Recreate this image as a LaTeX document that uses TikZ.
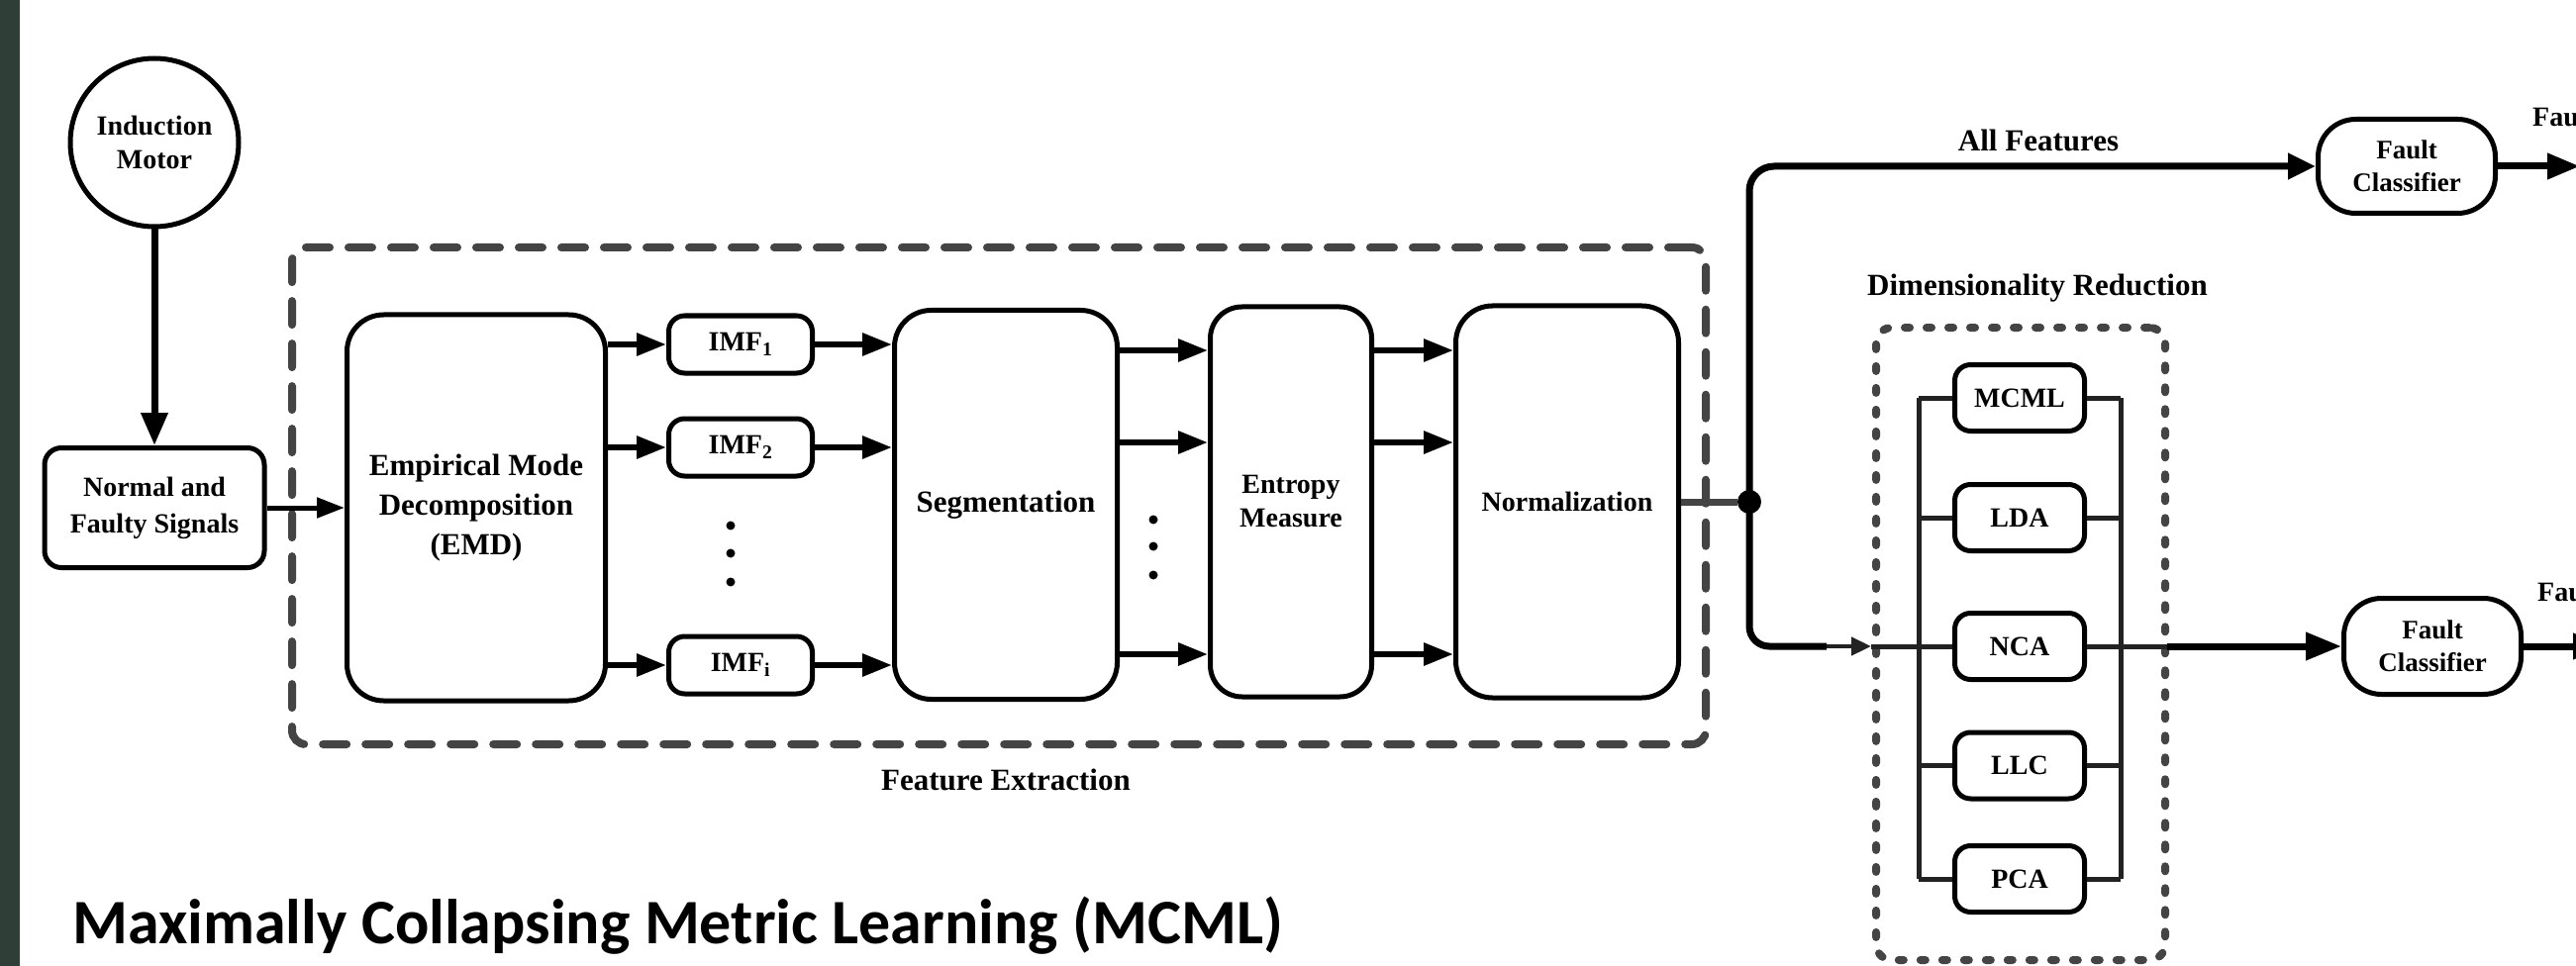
\documentclass[tikz,border=0pt]{standalone}
\usepackage{fontspec}
\setmainfont{Liberation Serif}
\newfontfamily\titlefont{Carlito}
\usetikzlibrary{arrows.meta,calc}
\definecolor{strip}{RGB}{47,62,55}
\definecolor{fegray}{RGB}{68,68,68}
\definecolor{busc}{RGB}{34,34,34}
\newcommand\fsz[2]{\fontsize{#1pt}{#2pt}\selectfont\bfseries}
\begin{document}
\begin{tikzpicture}[x=1pt,y=-1pt,
  rbox/.style={draw, line width=5pt, align=center, inner sep=0pt, font=\fsz{28}{34}},
  arr/.style={line width=6pt, -{Triangle[length=30pt,width=22pt]}},
  lbl/.style={font=\fsz{31}{36}, inner sep=0pt},
  dimbox/.style={rbox, rounded corners=16pt, minimum width=131pt, minimum height=67pt},
  busline/.style={line width=5pt, draw=busc},
  febox/.style={draw=fegray, line width=8pt, dash pattern=on 24pt off 19pt, line cap=round, rounded corners=14pt, inner sep=0pt},
  drbox/.style={draw=fegray, line width=8pt, dash pattern=on 5pt off 17pt, line cap=round, rounded corners=16pt, inner sep=0pt},
]
\useasboundingbox (0,0) rectangle (2602,976);
\clip (0,0) rectangle (2602,976);
\fill[white] (0,0) rectangle (2602,976);
\fill[strip] (0,0) rectangle (20,976);

% left part
\node[rbox, circle, minimum size=170pt] (motor) at (156,144) {Induction\\Motor};
\node[rbox, rounded corners=17pt, minimum width=222pt, minimum height=121pt, font=\fsz{28}{37}] (sig) at (156,513) {Normal and\\Faulty Signals};

% feature extraction
\node[febox, minimum width=1428pt, minimum height=502pt] (fe) at (1009,501) {};
\node[lbl] (felbl) at (1016,788) {Feature Extraction};
\node[rbox, rounded corners=37pt, minimum width=261pt, minimum height=390pt, font=\fsz{31}{40}] (emd) at (481,513) {Empirical Mode\\Decomposition\\(EMD)};
\node[rbox, rounded corners=16pt, minimum width=145pt, minimum height=58pt] (imf1) at (748,348) {IMF\textsubscript{1}};
\node[rbox, rounded corners=16pt, minimum width=145pt, minimum height=58pt] (imf2) at (748,452) {IMF\textsubscript{2}};
\node[rbox, rounded corners=16pt, minimum width=145pt, minimum height=58pt] (imfi) at (748,672) {IMF\textsubscript{i}};
\node[rbox, rounded corners=37pt, minimum width=225pt, minimum height=393pt, font=\fsz{31}{38}] (seg) at (1016,510) {Segmentation};
\node[rbox, rounded corners=32pt, minimum width=163pt, minimum height=394pt] (ent) at (1304,507) {Entropy\\Measure};
\node[rbox, rounded corners=37pt, minimum width=225pt, minimum height=396pt] (norm) at (1583,507) {Normalization};

\foreach \yy in {531,559,588} {\fill (738,\yy) circle (4.5pt);}
\foreach \yy in {525,552,581} {\fill (1165,\yy) circle (4.5pt);}

\coordinate (r1) at (0,354);
\coordinate (r2) at (0,447);
\coordinate (r3) at (0,661);

% right part
\node[circle, fill, inner sep=0pt, minimum size=24pt] (jn) at (1767,507) {};
\node[rbox, rounded corners=38pt, minimum width=179pt, minimum height=95pt, font=\fsz{27}{33}] (fc1) at (2431,168) {Fault\\Classifier};
\node[rbox, rounded corners=38pt, minimum width=179pt, minimum height=97pt, font=\fsz{27}{33}] (fc2) at (2457,653) {Fault\\Classifier};
\node[lbl] (allf) at (2059,142) {All Features};
\node[lbl] (drlbl) at (2058,291) {Dimensionality Reduction};
\node[drbox, minimum width=292pt, minimum height=639pt] (dr) at (2041,650.5) {};
\node[dimbox] (mcml) at (2040,402) {MCML};
\node[dimbox] (lda) at (2040,523) {LDA};
\node[dimbox] (nca) at (2040,653) {NCA};
\node[dimbox] (llc) at (2040,773.5) {LLC};
\node[dimbox] (pca) at (2040,888) {PCA};
\node[anchor=west, inner sep=0pt, font=\fsz{28}{34}] (f1) at (2558,118) {Fault};
\node[anchor=west, inner sep=0pt, font=\fsz{28}{34}] (f2) at (2563,598) {Fault};

\coordinate (c1) at (1845,653);
\coordinate (c2) at (1890,653);
\coordinate (lb) at (1938,0);
\coordinate (rb) at (2142,0);
\coordinate (drr) at (2189,653);
\coordinate (o1) at (2606,168);
\coordinate (o2) at (2632,653);

% connectors
\draw[line width=7pt, -{Triangle[length=33pt,width=26pt]}] (motor) -- (sig);
\draw[line width=5pt, -{Triangle[length=28pt,width=20pt]}] (sig) -- (emd);
\foreach \n in {imf1,imf2,imfi} {
  \draw[arr] (emd.east |- \n) -- (\n);
  \draw[arr] (\n) -- (\n -| seg.west);
}
\foreach \r in {r1,r2,r3} {
  \draw[arr] (seg.east |- \r) -- (ent.west |- \r);
  \draw[arr] (ent.east |- \r) -- (norm.west |- \r);
}
\draw[line width=7pt, fegray] (norm) -- (jn);
\draw[line width=7pt, rounded corners=25pt, -{Triangle[length=28pt,width=25pt]}] (jn.center) |- (fc1.west);
\draw[line width=7pt, rounded corners=20pt] (jn.center) |- (c1);
\draw[line width=4.5pt, busc, -{Triangle[length=20pt,width=18pt]}] (c1) -- (c2);
\draw[busline] (c2) -- (nca);
\draw[busline] (lb |- mcml) -- (lb |- pca);
\draw[busline] (rb |- mcml) -- (rb |- pca);
\foreach \n in {mcml,lda,nca,llc,pca} {
  \draw[busline] (lb |- \n) -- (\n.west);
  \draw[busline] (\n.east) -- (rb |- \n);
}
\draw[busline] (nca.east) -- (drr);
\draw[line width=7pt, -{Triangle[length=36pt,width=27pt]}] (drr) -- (fc2);
\draw[line width=7pt, -{Triangle[length=33pt,width=25pt]}] (fc1) -- (o1);
\draw[line width=7pt, -{Triangle[length=33pt,width=25pt]}] (fc2) -- (o2);

% title
\node[anchor=base west, inner sep=0pt, font={\titlefont\fontsize{64pt}{72pt}\selectfont\bfseries}] (title) at (73,953) {Maximally Collapsing Metric Learning (MCML)};
\end{tikzpicture}
\end{document}
